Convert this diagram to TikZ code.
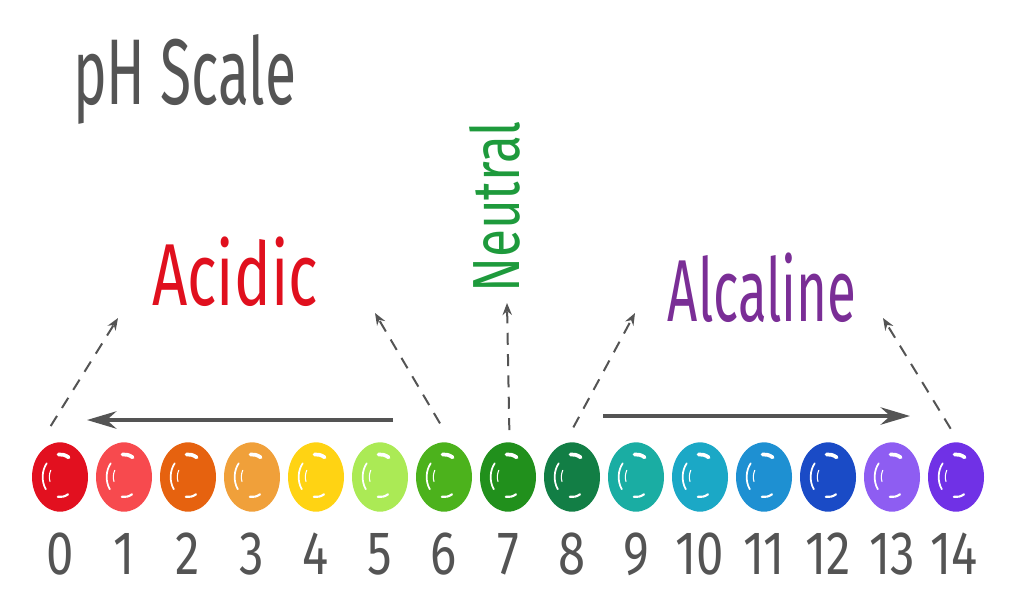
\documentclass[tikz,border=0pt]{standalone}
\usepackage{fontspec}
\setmainfont{Fira Sans}
\usetikzlibrary{arrows.meta,shapes.geometric}
\definecolor{inkgray}{HTML}{545454}
\definecolor{acidred}{HTML}{E0101E}
\definecolor{neutgreen}{HTML}{1E9A3C}
\definecolor{alcpurple}{HTML}{7A2E96}
\definecolor{ph0}{HTML}{E2101F}
\definecolor{ph1}{HTML}{F74A4E}
\definecolor{ph2}{HTML}{E6620F}
\definecolor{ph3}{HTML}{F0A03A}
\definecolor{ph4}{HTML}{FFD313}
\definecolor{ph5}{HTML}{ABEA55}
\definecolor{ph6}{HTML}{4CB21C}
\definecolor{ph7}{HTML}{21901C}
\definecolor{ph8}{HTML}{127E45}
\definecolor{ph9}{HTML}{1AADA3}
\definecolor{ph10}{HTML}{1BA8C6}
\definecolor{ph11}{HTML}{1E90D2}
\definecolor{ph12}{HTML}{1A4BC6}
\definecolor{ph13}{HTML}{8E5DF2}
\definecolor{ph14}{HTML}{7031E6}

\begin{document}
\begin{tikzpicture}[x=0.75pt,y=-0.75pt,
  phdot/.style={ellipse,inner sep=0pt,minimum width=42pt,minimum height=52pt,
    path picture={
      \draw[white,line width=2.8pt,line cap=round,x=1pt,y=1pt,shift={(path picture bounding box.center)}]
        (60:13 and 17) arc[start angle=60,end angle=95,x radius=13,y radius=17];
      \draw[white,line width=1.3pt,line cap=round,x=1pt,y=1pt,shift={(path picture bounding box.center)}]
        (140:13 and 16) arc[start angle=140,end angle=215,x radius=13,y radius=16];
      \draw[white,line width=0.8pt,line cap=round,x=1pt,y=1pt,shift={(path picture bounding box.center)}]
        (150:8 and 10) arc[start angle=150,end angle=200,x radius=8,y radius=10];
      \draw[white,line width=1.6pt,line cap=round,x=1pt,y=1pt,shift={(path picture bounding box.center)}]
        (262:12 and 15) arc[start angle=262,end angle=300,x radius=12,y radius=15];
    }},
  phnum/.style={text=inkgray,font=\fontsize{46}{48}\selectfont,xscale=0.8,transform shape},
  headline/.style={font=\fontsize{#1}{#1}\selectfont,inner sep=0pt},
  dasharrow/.style={inkgray,line width=1.5pt,dash pattern=on 9pt off 7pt,-{Stealth[length=9pt,width=7pt]}},
  bigarrow/.style={inkgray,line width=3pt,-{Stealth[length=22pt,width=13pt]}}]
\useasboundingbox (0,0) rectangle (1024,615);
% title and groups
\node[headline=70,text=inkgray,anchor=base west,xscale=0.61,transform shape] (title) at (73,104) {pH Scale};
\node[headline=66,text=acidred,xscale=0.70,transform shape] (acidic) at (235,272) {Acidic};
\node[headline=50,text=neutgreen,rotate=90,xscale=0.77,transform shape] (neutral) at (495,207) {Neutral};
\node[headline=66,text=alcpurple,xscale=0.60,transform shape] (alcaline) at (762,288) {Alcaline};
% scale dots
\node[phdot,fill=ph0] (c0) at (60,477) {};
\node[phdot,fill=ph1] (c1) at (124,477) {};
\node[phdot,fill=ph2] (c2) at (188,477) {};
\node[phdot,fill=ph3] (c3) at (252,477) {};
\node[phdot,fill=ph4] (c4) at (316,477) {};
\node[phdot,fill=ph5] (c5) at (380,477) {};
\node[phdot,fill=ph6] (c6) at (444,477) {};
\node[phdot,fill=ph7] (c7) at (508,477) {};
\node[phdot,fill=ph8] (c8) at (572,477) {};
\node[phdot,fill=ph9] (c9) at (636,477) {};
\node[phdot,fill=ph10] (c10) at (700,477) {};
\node[phdot,fill=ph11] (c11) at (764,477) {};
\node[phdot,fill=ph12] (c12) at (828,477) {};
\node[phdot,fill=ph13] (c13) at (892,477) {};
\node[phdot,fill=ph14] (c14) at (956,477) {};
% numbers
\node[phnum] (n0) at (60,554) {0};
\node[phnum] (n1) at (124,554) {1};
\node[phnum] (n2) at (188,554) {2};
\node[phnum] (n3) at (252,554) {3};
\node[phnum] (n4) at (316,554) {4};
\node[phnum] (n5) at (380,554) {5};
\node[phnum] (n6) at (444,554) {6};
\node[phnum] (n7) at (508,554) {7};
\node[phnum] (n8) at (572,554) {8};
\node[phnum] (n9) at (636,554) {9};
\node[phnum] (n10) at (700,554) {10};
\node[phnum] (n11) at (764,554) {11};
\node[phnum] (n12) at (828,554) {12};
\node[phnum] (n13) at (892,554) {13};
\node[phnum] (n14) at (954,554) {14};
% arrow ends
\coordinate (acidL) at (118,318);
\coordinate (acidR) at (375,313);
\coordinate (neutE) at (507,303);
\coordinate (alcL) at (635,313);
\coordinate (alcR) at (883,318);
\coordinate (acidS) at (393,420);
\coordinate (acidE) at (87,420);
\coordinate (alcS) at (603,416);
\coordinate (alcE) at (910,416);
\draw[bigarrow] (acidS) -- (acidE);
\draw[bigarrow] (alcS) -- (alcE);
\draw[dasharrow] ([xshift=-7pt,yshift=12pt]c0.north) -- (acidL);
\draw[dasharrow] ([xshift=-3pt,yshift=14pt]c6.north) -- (acidR);
\draw[dasharrow] ([xshift=1pt,yshift=9pt]c7.north) -- (neutE);
\draw[dasharrow] ([xshift=1pt,yshift=11pt]c8.north) -- (alcL);
\draw[dasharrow] ([xshift=-4pt,yshift=10pt]c14.north) -- (alcR);
\end{tikzpicture}
\end{document}
